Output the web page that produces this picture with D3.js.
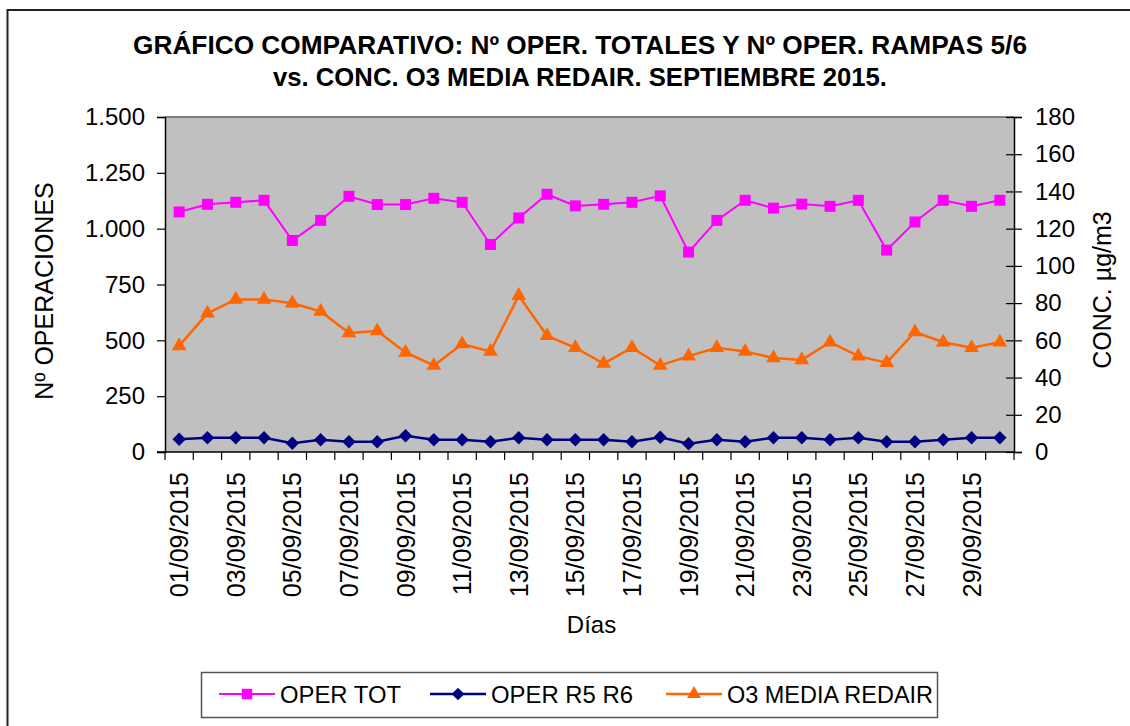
<!DOCTYPE html>
<html>
<head>
<meta charset="utf-8">
<script src="https://cdn.jsdelivr.net/npm/d3@7"></script>
<style>
	body { margin: 0; background: #fff; }
	text { font-family: Arial, 'Liberation Sans', sans-serif; fill: #000; }
</style>
</head>
<body>
<div id="chart"></div>
<script>
const dias = [
	'01/09/2015', '02/09/2015', '03/09/2015', '04/09/2015', '05/09/2015',
	'06/09/2015', '07/09/2015', '08/09/2015', '09/09/2015', '10/09/2015',
	'11/09/2015', '12/09/2015', '13/09/2015', '14/09/2015', '15/09/2015',
	'16/09/2015', '17/09/2015', '18/09/2015', '19/09/2015', '20/09/2015',
	'21/09/2015', '22/09/2015', '23/09/2015', '24/09/2015', '25/09/2015',
	'26/09/2015', '27/09/2015', '28/09/2015', '29/09/2015', '30/09/2015'
]

const operTot = [
	1075, 1109, 1118, 1127, 947, 1037, 1145, 1108, 1108, 1136,
	1118, 929, 1048, 1154, 1102, 1109, 1118, 1147, 895, 1037,
	1127, 1092, 1110, 1100, 1127, 904, 1030, 1127, 1100, 1127
]

const operR5R6 = [
	57, 64, 64, 64, 39, 55, 46, 46, 73, 55,
	55, 46, 64, 55, 55, 55, 46, 66, 37, 55,
	46, 64, 64, 55, 64, 46, 46, 55, 64, 64
]

const o3Media = [
	57, 74.5, 82, 82, 80, 75.5, 64, 65, 53.5, 46.5,
	58, 54, 84, 62.5, 56, 47.5, 56, 46.5, 51.5, 56,
	54, 50.5, 49.5, 59, 51.5, 48, 64.5, 59, 56, 59
]

const leftTicks = [0, 250, 500, 750, 1000, 1250, 1500]
const rightTicks = [0, 20, 40, 60, 80, 100, 120, 140, 160, 180]

const tituloLineas = [
	'GRÁFICO COMPARATIVO: Nº OPER. TOTALES Y Nº OPER. RAMPAS 5/6',
	'vs. CONC. O3 MEDIA REDAIR. SEPTIEMBRE 2015.'
]

const W = 1130
const H = 726
const plot = { left: 165, right: 1014, top: 117, bottom: 452 }

const svg = d3.select('#chart')
	.append('svg')
	.attr('width', W)
	.attr('height', H)

// outer chart border (goes off the picture on right/bottom)
svg.append('rect')
	.attr('x', 7.5)
	.attr('y', 10)
	.attr('width', W + 20)
	.attr('height', H + 20)
	.attr('fill', '#fff')
	.attr('stroke', '#222')
	.attr('stroke-width', 2)

// title
svg.append('g')
	.selectAll('text')
	.data(tituloLineas)
	.enter()
	.append('text')
	.attr('x', 580)
	.attr('y', (d, i) => 54 + i * 32)
	.attr('text-anchor', 'middle')
	.attr('font-size', 25)
	.attr('font-weight', 'bold')
	.attr('textLength', (d, i) => (i === 0 ? 894 : 614))
	.attr('lengthAdjust', 'spacingAndGlyphs')
	.text(d => d)

const x = d3.scaleBand()
	.domain(dias)
	.range([plot.left, plot.right])

const yL = d3.scaleLinear()
	.domain([0, 1500])
	.range([plot.bottom, plot.top])

const yR = d3.scaleLinear()
	.domain([0, 180])
	.range([plot.bottom, plot.top])

const cx = d => x(d) + x.bandwidth() / 2

// plot area
svg.append('rect')
	.attr('x', plot.left)
	.attr('y', plot.top)
	.attr('width', plot.right - plot.left)
	.attr('height', plot.bottom - plot.top)
	.attr('fill', '#c0c0c0')

svg.append('line')
	.attr('x1', plot.left)
	.attr('x2', plot.right)
	.attr('y1', plot.top)
	.attr('y2', plot.top)
	.attr('stroke', '#808080')
	.attr('stroke-width', 2)

const es = d3.formatLocale({ decimal: ',', thousands: '.', grouping: [3], currency: ['', ' €'] })

// left axis
const axL = svg.append('g')
	.attr('transform', `translate(${plot.left},0)`)
	.call(d3.axisLeft(yL).tickValues(leftTicks).tickFormat(es.format(',')).tickSize(8).tickPadding(12))
axL.select('.domain').attr('stroke', '#000').attr('stroke-width', 1.5)
axL.selectAll('.tick line').attr('stroke', '#000').attr('stroke-width', 1.2)
axL.selectAll('text').attr('font-size', 24).attr('font-family', "Arial, 'Liberation Sans', sans-serif")

// right axis, ticks cross the axis line
const axR = svg.append('g')
	.attr('transform', `translate(${plot.right},0)`)
	.call(d3.axisRight(yR).tickValues(rightTicks).tickSize(8).tickPadding(13))
axR.select('.domain').attr('stroke', '#000').attr('stroke-width', 1.5)
axR.selectAll('.tick line').attr('x1', -8).attr('stroke', '#000').attr('stroke-width', 1.2)
axR.selectAll('text').attr('font-size', 24).attr('font-family', "Arial, 'Liberation Sans', sans-serif")

// bottom axis: ticks between categories, labels every other day
const axB = svg.append('g')
axB.append('line')
	.attr('x1', plot.left - 8)
	.attr('x2', plot.right)
	.attr('y1', plot.bottom)
	.attr('y2', plot.bottom)
	.attr('stroke', '#000')
	.attr('stroke-width', 1.5)
axB.selectAll('.tk')
	.data(dias.map(d => x(d)).concat([plot.right]))
	.enter()
	.append('line')
	.attr('class', 'tk')
	.attr('x1', d => d)
	.attr('x2', d => d)
	.attr('y1', plot.bottom)
	.attr('y2', plot.bottom + 8)
	.attr('stroke', '#000')
	.attr('stroke-width', 1.2)
axB.selectAll('.lbl')
	.data(dias.filter((d, i) => i % 2 === 0))
	.enter()
	.append('text')
	.attr('class', 'lbl')
	.attr('transform', d => `translate(${cx(d) + 9},${plot.bottom + 20}) rotate(-90)`)
	.attr('text-anchor', 'end')
	.attr('font-size', 25)
	.text(d => d)

// axis titles
svg.append('text')
	.attr('transform', `translate(${53},${291}) rotate(-90)`)
	.attr('text-anchor', 'middle')
	.attr('font-size', 25)
	.text('Nº OPERACIONES')

svg.append('text')
	.attr('transform', `translate(${1111},${290}) rotate(-90)`)
	.attr('text-anchor', 'middle')
	.attr('font-size', 25)
	.text('CONC. µg/m3')

svg.append('text')
	.attr('x', (plot.left + plot.right) / 2 + 2)
	.attr('y', 633)
	.attr('text-anchor', 'middle')
	.attr('font-size', 24)
	.text('Días')

// diamond = square turned 45 degrees
const diamond = {
	draw(ctx, size) {
		const r = Math.sqrt(size / 2)
		ctx.moveTo(0, -r)
		ctx.lineTo(r, 0)
		ctx.lineTo(0, r)
		ctx.lineTo(-r, 0)
		ctx.closePath()
	}
}

// series
const series = [
	{ name: 'OPER TOT', values: operTot, y: yL, color: '#ff00ff', width: 2, symbol: d3.symbolSquare, size: 121 },
	{ name: 'OPER R5 R6', values: operR5R6, y: yL, color: '#000080', width: 2.5, symbol: diamond, size: 90 },
	{ name: 'O3 MEDIA REDAIR', values: o3Media, y: yR, color: '#ff6600', width: 2.5, symbol: d3.symbolTriangle, size: 95 }
]

series.forEach(s => {
	const line = d3.line()
		.x((d, i) => cx(dias[i]))
		.y(d => s.y(d))

	svg.append('path')
		.datum(s.values)
		.attr('d', line)
		.attr('fill', 'none')
		.attr('stroke', s.color)
		.attr('stroke-width', s.width)

	svg.append('g')
		.selectAll('path')
		.data(s.values)
		.enter()
		.append('path')
		.attr('transform', (d, i) => `translate(${cx(dias[i])},${s.y(d)})`)
		.attr('d', d3.symbol().type(s.symbol).size(s.size))
		.attr('fill', s.color)
})

// legend
const legend = svg.append('g')
legend.append('rect')
	.attr('x', 201.5)
	.attr('y', 672.5)
	.attr('width', 736)
	.attr('height', 45)
	.attr('fill', '#fff')
	.attr('stroke', '#555')
	.attr('stroke-width', 1.5)

const legendX = [219, 430, 666]
const legendW = [121, 142, 206]
series.forEach((s, i) => {
	const g = legend.append('g').attr('transform', `translate(${legendX[i]},694)`)
	g.append('line')
		.attr('x1', 0)
		.attr('x2', 56)
		.attr('stroke', s.color)
		.attr('stroke-width', s.width)
	g.append('path')
		.attr('transform', 'translate(28,0)')
		.attr('d', d3.symbol().type(s.symbol).size(s.size * 0.9))
		.attr('fill', s.color)
	g.append('text')
		.attr('x', 61)
		.attr('y', 9)
		.attr('font-size', 24)
		.attr('textLength', legendW[i])
		.attr('lengthAdjust', 'spacingAndGlyphs')
		.text(s.name)
})
</script>
</body>
</html>
